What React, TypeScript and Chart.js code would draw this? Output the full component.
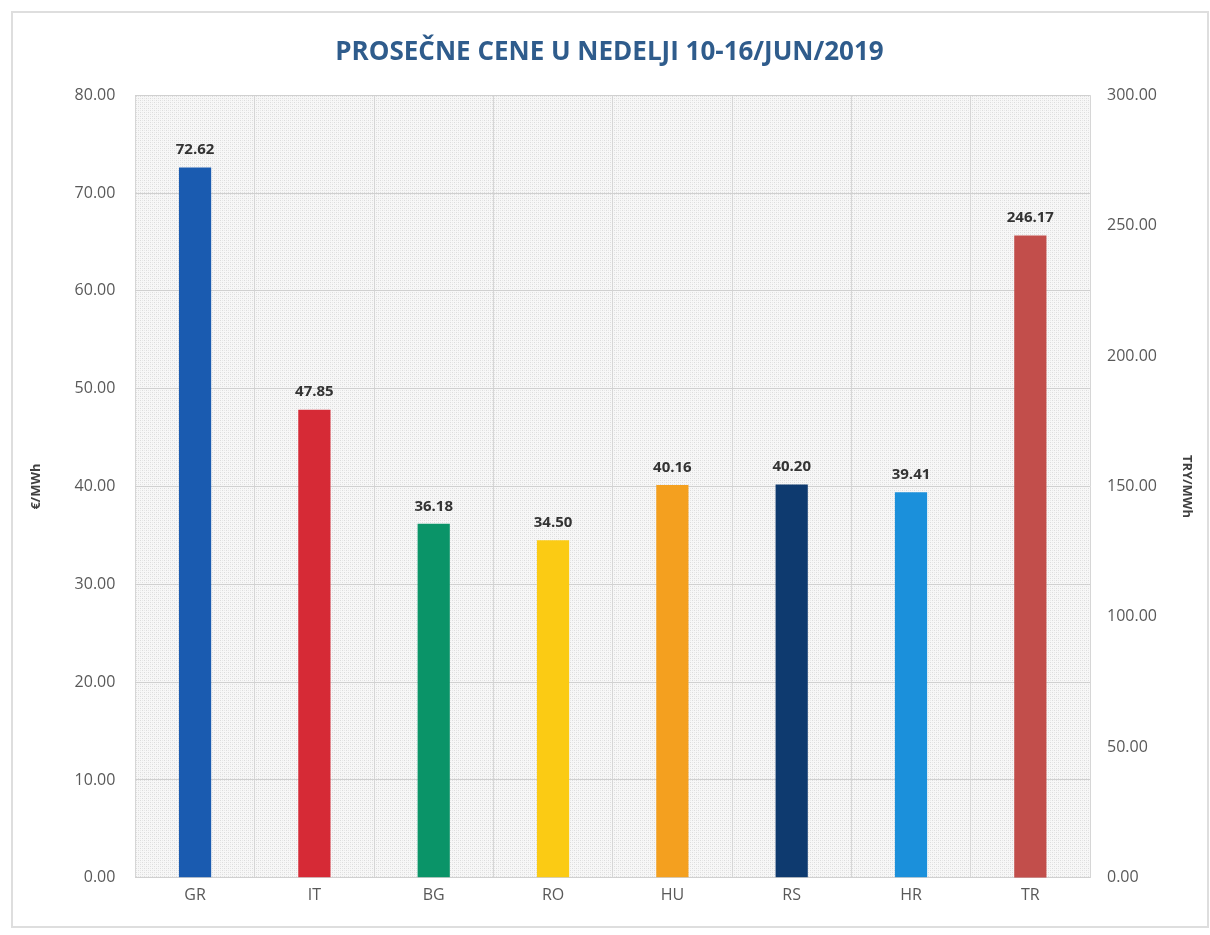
import React, { useEffect, useRef } from "react";
import { Chart, registerables } from "chart.js";

Chart.register(...registerables);

const title = "PROSEČNE CENE U NEDELJI 10-16/JUN/2019";
const categories = ["GR", "IT", "BG", "RO", "HU", "RS", "HR", "TR"];
const eurValues = [72.62, 47.85, 36.18, 34.5, 40.16, 40.2, 39.41, null];
const tryValues = [null, null, null, null, null, null, null, 246.17];
const barColors = ["#1A5BB0", "#D62A36", "#0A9468", "#FBCB14", "#F4A01F", "#0E3A6F", "#1B90DB", "#C24E4B"];
const leftTitle = "€/MWh";
const rightTitle = "TRY/MWh";

function makePattern(): CanvasPattern | string {
  const c = document.createElement("canvas");
  c.width = 4;
  c.height = 4;
  const g = c.getContext("2d");
  if (!g) return "#f0f0f0";
  g.fillStyle = "#f7f7f7";
  g.fillRect(0, 0, 4, 4);
  g.fillStyle = "#dcdcdc";
  g.fillRect(0, 0, 1, 1);
  g.fillRect(2, 2, 1, 1);
  g.fillStyle = "#e8e8e8";
  g.fillRect(2, 0, 1, 1);
  g.fillRect(0, 2, 1, 1);
  const p = g.createPattern(c, "repeat");
  return p || "#f0f0f0";
}

export default function App() {
  const ref = useRef<HTMLCanvasElement | null>(null);
  useEffect(() => {
    document.body.style.margin = "0";
    const canvas = ref.current;
    if (!canvas) return;
    const pattern = makePattern();

    const bgPlugin = {
      id: "bgPattern",
      beforeDraw(chart: any) {
        const { ctx, chartArea } = chart;
        ctx.save();
        ctx.fillStyle = "#ffffff";
        ctx.fillRect(0, 0, chart.width, chart.height);
        ctx.strokeStyle = "#dedede";
        ctx.lineWidth = 2;
        ctx.strokeRect(12, 12, chart.width - 14, chart.height - 20);
        ctx.fillStyle = pattern;
        ctx.fillRect(chartArea.left, chartArea.top, chartArea.right - chartArea.left, chartArea.bottom - chartArea.top);
        ctx.restore();
      },
    };

    const labelPlugin = {
      id: "valueLabels",
      afterDatasetsDraw(chart: any) {
        const { ctx } = chart;
        ctx.save();
        ctx.font = "bold 15px 'Open Sans', sans-serif";
        ctx.fillStyle = "#333333";
        ctx.textAlign = "center";
        ctx.textBaseline = "bottom";
        chart.data.datasets.forEach((ds: any, di: number) => {
          const meta = chart.getDatasetMeta(di);
          meta.data.forEach((bar: any, i: number) => {
            const v = ds.data[i];
            if (v === null || v === undefined) return;
            ctx.fillText(v.toFixed(2), bar.x, bar.y - 10);
          });
        });
        ctx.restore();
      },
    };

    const tickFont = { family: "'Open Sans', sans-serif", size: 16 };

    const chart = new Chart(canvas, {
      type: "bar",
      data: {
        labels: categories,
        datasets: [
          {
            data: eurValues,
            backgroundColor: barColors,
            yAxisID: "y",
            categoryPercentage: 1,
            barPercentage: 0.27,
            grouped: false,
          } as any,
          {
            data: tryValues,
            backgroundColor: barColors,
            yAxisID: "y1",
            categoryPercentage: 1,
            barPercentage: 0.27,
            grouped: false,
          } as any,
        ],
      },
      options: {
        animation: false,
        responsive: false,
        layout: { padding: { left: 24, right: 15, top: 22, bottom: 22 } },
        plugins: {
          legend: { display: false },
          tooltip: { enabled: false },
          title: {
            display: true,
            text: title,
            color: "#2F5C8C",
            font: { family: "'Open Sans', sans-serif", size: 26, weight: "bold" },
            padding: { top: 15, bottom: 27 },
          },
        },
        scales: {
          x: {
            grid: { color: "#d6d6d6", offset: true, drawTicks: false },
            border: { display: false },
            ticks: { color: "#595959", font: { family: "'Open Sans', sans-serif", size: 16 }, padding: 8 },
          },
          y: {
            position: "left",
            min: 0,
            max: 80,
            grid: { color: "#d0d0d0", drawTicks: false },
            border: { display: false },
            ticks: {
              stepSize: 10,
              color: "#595959",
              padding: 20,
              font: tickFont,
              callback: (v: any) => Number(v).toFixed(2),
            },
            title: {
              display: true,
              text: leftTitle,
              color: "#404040",
              font: { family: "'Open Sans', sans-serif", size: 13, weight: "bold" },
              padding: { bottom: 11 },
            },
          },
          y1: {
            position: "right",
            min: 0,
            max: 300,
            grid: { display: false },
            border: { display: false },
            afterFit: (scale: any) => {
              scale.width = 105;
            },
            ticks: {
              stepSize: 50,
              color: "#595959",
              padding: 9,
              font: tickFont,
              callback: (v: any) => Number(v).toFixed(2),
            },
            title: {
              display: true,
              text: rightTitle,
              color: "#404040",
              font: { family: "'Open Sans', sans-serif", size: 13, weight: "bold" },
              padding: { top: 0, bottom: 16 },
            },
          },
        },
      },
      plugins: [bgPlugin, labelPlugin],
    });
    return () => chart.destroy();
  }, []);
  return (
    <div style={{ width: 1210, height: 935 }}>
      <canvas ref={ref} width={1210} height={935} style={{ display: "block" }} />
    </div>
  );
}
